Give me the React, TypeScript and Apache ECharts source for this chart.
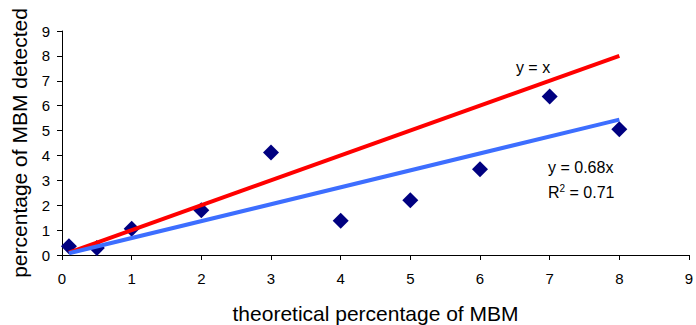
import React, { useEffect, useRef } from "react";
import * as echarts from "echarts";

const xValues = [0.1, 0.5, 1, 2, 3, 4, 5, 6, 7, 8];
const yValues = [0.35, 0.28, 1.05, 1.8, 4.12, 1.38, 2.2, 3.45, 6.37, 5.05];
const identityLine = [[0.1, 0.1], [8, 8]];
const fitLine = [[0.1, 0.068], [8, 5.44]];
const xTicks = [0, 1, 2, 3, 4, 5, 6, 7, 8, 9];
const yTicks = [0, 1, 2, 3, 4, 5, 6, 7, 8, 9];

const FONT = "Liberation Sans, Arial, sans-serif";

export default function App() {
  const ref = useRef<HTMLDivElement>(null);
  useEffect(() => {
    const chart = echarts.init(ref.current!, null, { renderer: "svg" });
    const axisCommon = {
      min: 0,
      max: 9,
      interval: 1,
      splitLine: { show: false },
      axisLine: { show: true, onZero: false, lineStyle: { color: "#000", width: 1 } },
      axisTick: { show: true, inside: false, length: 5, lineStyle: { color: "#000" } },
      nameTextStyle: { fontFamily: FONT, fontSize: 21, color: "#000" },
    };
    chart.setOption({
      animation: false,
      backgroundColor: "#fff",
      grid: { left: 62, right: 7, top: 31, bottom: 70, outerBoundsMode: "none", containLabel: false },
      xAxis: {
        type: "value",
        ...axisCommon,
        axisLabel: {
          fontFamily: FONT,
          fontSize: 15,
          color: "#000",
          margin: 16,
          formatter: (v: number) => (xTicks.includes(v) ? String(v) : ""),
        },
        name: "theoretical percentage of MBM",
        nameLocation: "middle",
        nameGap: 48,
      },
      yAxis: {
        type: "value",
        ...axisCommon,
        axisLabel: {
          fontFamily: FONT,
          fontSize: 15,
          color: "#000",
          margin: 12,
          formatter: (v: number) => (yTicks.includes(v) ? String(v) : ""),
        },
        name: "percentage of MBM detected",
        nameLocation: "middle",
        nameGap: 32,
        nameRotate: 90,
      },
      series: [
        {
          type: "scatter",
          data: xValues.map((x, i) => [x, yValues[i]]),
          symbol: "diamond",
          symbolSize: 16,
          itemStyle: { color: "#000080", opacity: 1 },
          z: 2,
        },
        {
          type: "line",
          data: identityLine,
          symbol: "none",
          lineStyle: { color: "#FF0000", width: 4 },
          z: 3,
        },
        {
          type: "line",
          data: fitLine,
          symbol: "none",
          lineStyle: { color: "#3D6EFF", width: 4 },
          z: 3,
        },
      ],
      graphic: [
        {
          type: "text",
          x: 533,
          y: 67,
          style: {
            text: "y = x",
            font: `16px ${FONT}`,
            fill: "#000",
            align: "center",
            verticalAlign: "middle",
          },
        },
        {
          type: "text",
          x: 548,
          y: 167,
          style: {
            text: "y = 0.68x",
            font: `16px ${FONT}`,
            fill: "#000",
            align: "left",
            verticalAlign: "middle",
          },
        },
        {
          type: "text",
          x: 548,
          y: 192,
          style: {
            text: "R{sup|2} = 0.71",
            font: `16px ${FONT}`,
            fill: "#000",
            align: "left",
            verticalAlign: "middle",
            rich: {
              sup: { fontSize: 10, fontFamily: FONT, verticalAlign: "top", padding: [0, 0, 7, 0] },
            },
          },
        },
      ],
    });
    return () => chart.dispose();
  }, []);
  return <div ref={ref} style={{ width: 696, height: 325, position: "absolute", left: 0, top: 0 }} />;
}
